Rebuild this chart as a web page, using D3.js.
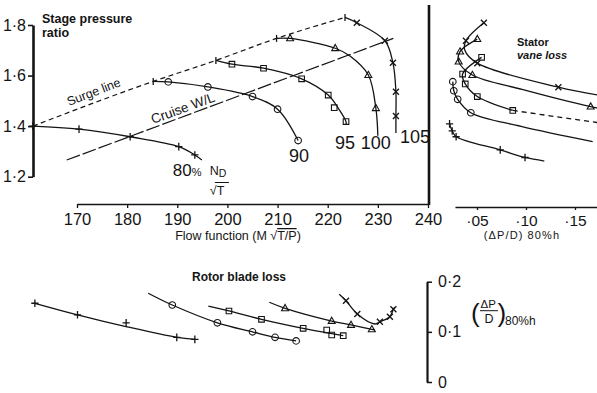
<!DOCTYPE html>
<html><head><meta charset="utf-8">
<script src="https://cdn.jsdelivr.net/npm/d3@7"></script>
<style>
body{margin:0;background:#fff}
text{font-family:"Liberation Sans",Arial,Helvetica,sans-serif;fill:#141414}
</style>
</head><body>
<svg id="c" width="597" height="393"></svg>
<script>
// ---------------- data ----------------
const flowTicks = [170,180,190,200,210,220,230,240];
const prTicks = [1.2,1.4,1.6,1.8];
const statorTicks = [0.05,0.10,0.15];
const rotorTicks = [0,0.1,0.2];
const speeds = ["80","90","95","100","105"];
const markerTypes = ["plus","circle","square","triangle","cross"];

// main chart: [flow function, stage pressure ratio, mark] (1 = marker on curve, 0 = curve only, 2 = marker only)
const main80  = [[161.2,1.400,1],[170.4,1.388,1],[180.6,1.358,1],[190.3,1.319,1],[193.5,1.286,1],[194.9,1.266,0]];
const main90  = [[185.2,1.577,0],[188.2,1.575,1],[196.1,1.555,1],[205.0,1.517,1],[210.0,1.467,1],[214.1,1.343,1]];
const main95  = [[197.7,1.660,0],[200.9,1.645,1],[207.2,1.629,1],[214.8,1.587,1],[220.1,1.523,1],[221.3,1.473,2],[222.1,1.471,0],[223.65,1.418,1],[223.65,1.405,0]];
const main100 = [[209.8,1.747,0],[212.5,1.747,1],[221.5,1.708,1],[224.45,1.677,0],[228.1,1.602,1],[229.6,1.471,1],[230.0,1.362,0]];
const main105 = [[223.45,1.830,0],[225.8,1.809,1],[231.4,1.738,1],[233.0,1.651,1],[233.6,1.536,1],[233.6,1.440,1],[233.6,1.373,0]];
const surgeLine  = [[161.2,1.400],[185.2,1.577],[197.7,1.660],[209.8,1.747],[223.45,1.830]];
const cruiseLine = [[167.95,1.266],[233.08,1.747]];

// stator vane loss: [(dP/D) 80%h, stage pressure ratio, mark]
const stat80  = [[0.022,1.409,1],[0.0247,1.381,1],[0.0287,1.358,1],[0.0737,1.306,1],[0.099,1.276,1],[0.1187,1.262,0]];
const stat90  = [[0.0253,1.576,1],[0.0263,1.540,1],[0.0303,1.506,1],[0.0437,1.453,1],[0.095,1.399,0],[0.168,1.339,0]];
const stat95  = [[0.0547,1.672,1],[0.0353,1.606,1],[0.038,1.567,1],[0.0503,1.517,1],[0.0865,1.462,1]];
const stat95ext = [[0.0865,1.462],[0.173,1.414]];
const stat100 = [[0.0503,1.744,1],[0.0327,1.695,1],[0.0313,1.655,1],[0.0453,1.602,1],[0.096,1.545,0],[0.166,1.477,1],[0.173,1.472,0]];
const stat105 = [[0.057,1.809,1],[0.0387,1.738,1],[0.0375,1.701,0],[0.0503,1.649,1],[0.133,1.554,1],[0.173,1.523,0]];

// rotor blade loss: [flow function, (dP/D) 80%h, mark]
const rot80  = [[161.6,0.157,1],[170.1,0.134,1],[179.8,0.118,2],[180.0,0.110,0],[189.9,0.089,1],[193.5,0.085,1]];
const rot90  = [[184.2,0.177,0],[189.0,0.1535,1],[198.0,0.118,1],[205.0,0.100,1],[209.5,0.089,1],[213.7,0.082,1]];
const rot95  = [[196.2,0.1515,0],[200.3,0.1416,1],[206.8,0.125,1],[215.1,0.107,1],[219.8,0.1037,2],[220.8,0.0937,2],[220.5,0.097,0],[223.1,0.0923,1]];
const rot100 = [[208.35,0.159,0],[211.5,0.147,1],[220.8,0.1216,1],[224.65,0.1137,1],[228.8,0.105,1],[229.4,0.1037,0]];
const rot105 = [[222.3,0.175,0],[223.65,0.162,1],[225.9,0.1356,1],[229.4,0.1157,0],[230.4,0.120,1],[232.4,0.130,1],[233.1,0.145,1],[233.4,0.149,0]];

// ---------------- drawing ----------------
const ink = "#141414";
const svg = d3.select("#c");
const xF = d3.scaleLinear().domain([170,240]).range([77,428]);
const yP = d3.scaleLinear().domain([1.2,1.8]).range([176.7,25]);
const xS = d3.scaleLinear().domain([0,0.15]).range([428,575]);
const yR = d3.scaleLinear().domain([0,0.2]).range([382,281.7]);
const dot = d => String(d).replace(".", "\u00B7");

function marker(g, type, x, y){
  const p = g.append("path").attr("fill","none").attr("stroke",ink).attr("stroke-width",1.1);
  if(type==="circle") p.attr("d",d3.arc()({innerRadius:0,outerRadius:3.3,startAngle:0,endAngle:2*Math.PI})).attr("transform",`translate(${x},${y})`);
  else if(type==="square") p.attr("d",`M${x-2.8},${y-2.8}h5.6v5.6h-5.6Z`);
  else if(type==="triangle") p.attr("d",`M${x},${y-3.8}L${x+3.5},${y+2.4}L${x-3.5},${y+2.4}Z`);
  else if(type==="plus") p.attr("d",`M${x-3.6},${y}H${x+3.6}M${x},${y-3.8}V${y+3.8}`).attr("stroke-width",1.3);
  else p.attr("d",`M${x-3},${y-3}L${x+3},${y+3}M${x-3},${y+3}L${x+3},${y-3}`).attr("stroke-width",1.3);
}
function series(g, data, xs, ys, type, dash){
  const curvePts = data.filter(d => d[2] !== 2);
  g.append("path").datum(curvePts)
    .attr("d", d3.line().curve(d3.curveCatmullRom.alpha(0.5)).x(d=>xs(d[0])).y(d=>ys(d[1])))
    .attr("fill","none").attr("stroke",ink).attr("stroke-width",1.3)
    .attr("stroke-dasharray", dash || null);
  data.filter(d => d[2] >= 1).forEach(d => marker(g, type, xs(d[0]), ys(d[1])));
}

// ---- main chart ----
const gM = svg.append("g");
const yAx = gM.append("g").attr("transform",`translate(33,0)`)
  .call(d3.axisLeft(yP).tickValues(prTicks).tickSize(5).tickSizeOuter(0).tickPadding(2).tickFormat(dot));
yAx.select(".domain").attr("stroke",ink).attr("stroke-width",2.6);
yAx.selectAll(".tick line").attr("stroke",ink).attr("stroke-width",1.6);
yAx.selectAll("text").style("font-size","16px").attr("fill",ink).attr("font-family",null);

const xAx = gM.append("g").attr("transform",`translate(0,204)`)
  .call(d3.axisBottom(xF).tickValues(flowTicks).tickSize(4).tickSizeOuter(0).tickPadding(5).tickFormat(d3.format("d")));
xAx.select(".domain").attr("stroke",ink).attr("stroke-width",1.6);
xAx.selectAll(".tick line").attr("stroke",ink).attr("stroke-width",1.3);
xAx.selectAll("text").style("font-size","16.5px").attr("fill",ink).attr("font-family",null);

// right frame line of the main chart
gM.append("line").attr("x1",xF(240)+1).attr("x2",xF(240)+1).attr("y1",5).attr("y2",205)
  .attr("stroke",ink).attr("stroke-width",2.6);

gM.append("path").datum(surgeLine)
  .attr("d", d3.line().curve(d3.curveMonotoneX).x(d=>xF(d[0])).y(d=>yP(d[1])))
  .attr("fill","none").attr("stroke",ink).attr("stroke-width",1.2).attr("stroke-dasharray","5,3.5");
gM.append("path").datum(cruiseLine)
  .attr("d", d3.line().x(d=>xF(d[0])).y(d=>yP(d[1])))
  .attr("fill","none").attr("stroke",ink).attr("stroke-width",1.2).attr("stroke-dasharray","14,3");

const mainSeries = [main80,main90,main95,main100,main105];
mainSeries.forEach((s,i) => series(gM, s, xF, yP, markerTypes[i]));
// surge tick marks at start of speed lines
mainSeries.slice(1).forEach(s => {
  const x = xF(s[0][0]), y = yP(s[0][1]);
  gM.append("line").attr("x1",x).attr("x2",x).attr("y1",y-3.5).attr("y2",y+3.5).attr("stroke",ink).attr("stroke-width",1.3);
});

// speed labels
[[main90,1,21,"middle"],[main95,-1,24,"middle"],[main100,-2,13,"middle"],[main105,4,10,"start"]].forEach((a,i) => {
  const e = a[0][a[0].length-1];
  gM.append("text").attr("x",xF(e[0])+a[1]).attr("y",yP(e[1])+a[2]).attr("text-anchor",a[3])
    .style("font-size","18px").text(speeds[i+1]);
});
const e80 = main80[main80.length-1];
const lab80 = gM.append("g").attr("transform",`translate(${xF(e80[0])-29},${yP(e80[1])+16})`);
lab80.append("text").attr("x",0).attr("y",0).style("font-size","17px").text("80");
lab80.append("text").attr("x",19).attr("y",0).style("font-size","11px").text("%");
lab80.append("text").attr("x",37).attr("y",-1).style("font-size","12.5px").text("N");
lab80.append("text").attr("x",46).attr("y",1).style("font-size","10.5px").text("D");
lab80.append("line").attr("x1",42).attr("x2",56).attr("y1",6.5).attr("y2",6.5).attr("stroke",ink).attr("stroke-width",1);
lab80.append("text").attr("x",37).attr("y",19).style("font-size","12.5px").text("\u221AT");

gM.append("text").attr("x",42).attr("y",23).style("font-size","12.5px").style("font-weight","bold").text("Stage pressure");
gM.append("text").attr("x",42).attr("y",37).style("font-size","12.5px").style("font-weight","bold").text("ratio");
gM.append("text").attr("transform","translate(69,106) rotate(-21)").style("font-size","12.5px").text("Surge line");
gM.append("text").attr("transform","translate(153,124) rotate(-20)").style("font-size","13.5px").text("Cruise W/L");
const ff = gM.append("text").attr("x",238).attr("y",240).attr("text-anchor","middle").style("font-size","12.5px");
ff.append("tspan").text("Flow function (M \u221A");
ff.append("tspan").style("text-decoration","overline").text("T/P");
ff.append("tspan").text(")");

// ---- stator panel ----
const gS = svg.append("g");
svg.append("clipPath").attr("id","clipS").append("rect").attr("x",432).attr("y",0).attr("width",170).attr("height",205);
const gSc = gS.append("g").attr("clip-path","url(#clipS)");
[stat80,stat90,stat95,stat100,stat105].forEach((s,i) => series(gSc, s, xS, yP, markerTypes[i]));
gSc.append("path").datum(stat95ext)
  .attr("d", d3.line().x(d=>xS(d[0])).y(d=>yP(d[1])))
  .attr("fill","none").attr("stroke",ink).attr("stroke-width",1.3).attr("stroke-dasharray","5,4");
const xSa = xS.copy().domain([0.0275,0.173]).range([xS(0.0275),xS(0.173)]);
const sAx = gS.append("g").attr("transform","translate(0,207)")
  .call(d3.axisBottom(xSa).tickValues(statorTicks).tickSize(3).tickSizeOuter(0).tickPadding(5)
    .tickFormat(d => "\u00B7" + d3.format(".2f")(d).slice(2)));
sAx.select(".domain").attr("stroke",ink).attr("stroke-width",1.6);
sAx.selectAll(".tick line").attr("stroke",ink).attr("stroke-width",1.3);
sAx.selectAll("text").style("font-size","15.5px").attr("fill",ink).attr("font-family",null);
gS.append("text").attr("x",522).attr("y",238.5).attr("text-anchor","middle").style("font-size","11px")
  .style("letter-spacing","1.1px").text("(\u0394P/D) 80%h");
gS.append("text").attr("x",517).attr("y",46).style("font-size","11px").style("font-weight","bold").text("Stator");
gS.append("text").attr("x",517).attr("y",59).style("font-size","11px").style("font-weight","bold").style("font-style","italic").text("vane loss");

// ---- rotor panel ----
const gR = svg.append("g");
[rot80,rot90,rot95,rot100,rot105].forEach((s,i) => series(gR, s, xF, yR, markerTypes[i]));
const rAx = gR.append("g").attr("transform","translate(427,0)")
  .call(d3.axisRight(yR).tickValues(rotorTicks).tickSize(5).tickSizeOuter(0).tickPadding(6).tickFormat(dot));
rAx.select(".domain").attr("stroke",ink).attr("stroke-width",2.2);
rAx.selectAll(".tick line").attr("stroke",ink).attr("stroke-width",1.5);
rAx.selectAll("text").style("font-size","16px").attr("fill",ink).attr("font-family",null);
gR.append("text").attr("x",239).attr("y",281).attr("text-anchor","middle").style("font-size","12px").style("font-weight","bold").text("Rotor blade loss");
const rl = gR.append("g").attr("transform","translate(474,315)");
rl.append("text").attr("x",-3).attr("y",7).style("font-size","26px").text("(");
rl.append("text").attr("x",6.5).attr("y",-7).style("font-size","11.5px").text("\u0394P");
rl.append("line").attr("x1",6).attr("x2",24).attr("y1",-4.3).attr("y2",-4.3).attr("stroke",ink).attr("stroke-width",1);
rl.append("text").attr("x",10.5).attr("y",8).style("font-size","12.5px").text("D");
rl.append("text").attr("x",23.5).attr("y",7).style("font-size","26px").text(")");
rl.append("text").attr("x",31).attr("y",10).style("font-size","12px").text("80%h");
</script>
</body></html>
